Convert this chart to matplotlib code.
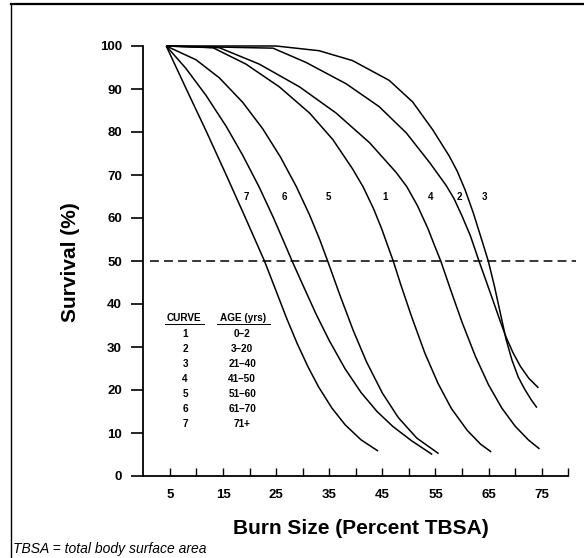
import matplotlib
matplotlib.use("Agg")
import matplotlib.pyplot as plt
from matplotlib.lines import Line2D

plt.rcParams['font.family'] = ['Liberation Sans', 'DejaVu Sans']

# ---- data (x = % TBSA, y = survival %) ----
c7_x = [4.3, 8.0, 11.9, 15.6, 19.3, 22.8, 25.0, 27.0, 29.0, 31.0, 33.0, 35.5, 38.0, 41.0, 44.2]
c7_y = [100, 90.2, 80.0, 70.0, 59.8, 50.0, 43.0, 36.6, 30.7, 25.4, 20.7, 15.8, 11.9, 8.4, 5.8]

c6_x = [4.3, 8.0, 11.8, 15.6, 18.7, 21.8, 24.4, 26.2, 28.0, 30.0, 32.5, 35.0, 38.0, 41.0, 44.0, 47.0, 50.5, 54.4]
c6_y = [100, 94.8, 88.5, 81.3, 74.6, 67.2, 60.3, 55.2, 50.0, 44.5, 37.7, 31.5, 24.9, 19.4, 15.0, 11.5, 8.2, 5.0]

c5_x = [4.3, 9.9, 14.3, 18.7, 22.5, 25.8, 28.8, 31.3, 33.2, 34.7, 37.0, 39.5, 42.0, 45.0, 48.0, 51.5, 55.6]
c5_y = [100, 96.8, 92.6, 86.9, 80.7, 74.2, 67.3, 60.7, 55.0, 50.0, 42.1, 33.9, 26.6, 19.3, 13.6, 8.8, 5.2]

c1_x = [4.3, 13.1, 19.3, 25.6, 31.3, 35.7, 39.4, 41.4, 43.4, 44.9, 46.0, 47.05, 48.5, 50.5, 53.0, 55.5, 58.0, 61.0, 63.5, 65.5]
c1_y = [100, 99.6, 95.8, 90.5, 84.4, 78.2, 71.4, 67.2, 62.0, 57.4, 53.6, 50.0, 44.4, 37.1, 28.6, 21.5, 15.7, 10.6, 7.4, 5.6]

c4_x = [4.3, 14.3, 21.8, 29.4, 36.3, 42.6, 47.6, 49.6, 51.6, 53.6, 54.8, 56.0, 58.0, 60.0, 62.5, 65.0, 67.5, 70.0, 72.5, 74.6]
c4_y = [100, 99.6, 95.8, 90.5, 84.4, 77.5, 70.6, 67.3, 62.9, 57.5, 53.7, 50.0, 42.8, 35.8, 27.9, 21.2, 15.8, 11.6, 8.4, 6.3]

c2_x = [4.3, 24.4, 30.6, 38.2, 44.4, 49.5, 53.9, 57.0, 58.5, 60.0, 61.6, 63.2, 64.5, 65.9, 67.2, 68.3, 69.6, 71.0, 72.6, 74.4]
c2_y = [100, 99.5, 96.2, 91.2, 85.9, 79.8, 72.9, 67.6, 64.5, 60.5, 55.8, 50.0, 45.5, 40.6, 36.0, 32.3, 28.7, 25.5, 22.7, 20.5]

c3_x = [4.3, 25.0, 33.1, 39.4, 46.3, 50.7, 54.5, 57.6, 59.1, 60.6, 62.1, 63.6, 64.95, 66.1, 67.2, 68.3, 69.4, 70.6, 71.8, 73.0, 74.1]
c3_y = [100, 100, 98.9, 96.6, 92.0, 87.0, 80.5, 74.4, 70.9, 66.5, 61.3, 55.4, 50.0, 44.2, 38.0, 31.8, 27.0, 23.0, 20.2, 17.8, 15.9]

curve_ids = ["7", "6", "5", "1", "4", "2", "3"]
label_x = [19.35, 26.5, 34.8, 45.6, 54.0, 59.6, 64.3]
label_y = 64.8

table_curves = ["1", "2", "3", "4", "5", "6", "7"]
table_ages = ["0\u20132", "3\u201320", "21\u201340", "41\u201350", "51\u201360", "61\u201370", "71+"]

x_ticks = [5, 10, 15, 20, 25, 30, 35, 40, 45, 50, 55, 60, 65, 70, 75, 80]
x_ticklabels = ["5", "", "15", "", "25", "", "35", "", "45", "", "55", "", "65", "", "75", ""]
y_ticks = [0, 10, 20, 30, 40, 50, 60, 70, 80, 90, 100]

# ---- figure ----
W, H = 584, 558
fig = plt.figure(figsize=(W / 100, H / 100), dpi=100)
ax = fig.add_axes([143.4 / W, (H - 476) / H, 435.4 / W, 430 / H])

for xs, ys in [(c7_x, c7_y), (c6_x, c6_y), (c5_x, c5_y), (c1_x, c1_y),
               (c4_x, c4_y), (c2_x, c2_y), (c3_x, c3_y)]:
    ax.plot(xs, ys, color='black', lw=1.1, clip_on=False,
            solid_joinstyle='round', solid_capstyle='butt')

ax.axhline(50, xmin=1.25 / 82, xmax=81.5 / 82, color='black', lw=1.1,
           linestyle=(0, (5.8, 3.4)))

for t, lx in zip(curve_ids, label_x):
    ax.text(lx, label_y, t, fontsize=7, fontweight='bold', ha='center', va='center')

# table
ax.text(7.7, 36.7, "CURVE", fontsize=7.2, fontweight='bold', ha='center', va='center')
ax.text(18.8, 36.7, "AGE (yrs)", fontsize=7.2, fontweight='bold', ha='center', va='center')
ax.plot([4.0, 11.4], [35.3, 35.3], color='black', lw=0.7)
ax.plot([13.8, 23.9], [35.3, 35.3], color='black', lw=0.7)
row_y0, row_dy = 33.0, 3.48
for i, (c, a) in enumerate(zip(table_curves, table_ages)):
    yy = row_y0 - i * row_dy
    ax.text(7.85, yy, c, fontsize=7.2, fontweight='bold', ha='center', va='center')
    ax.text(18.6, yy, a, fontsize=7.2, fontweight='bold', ha='center', va='center')

ax.set_xlim(0, 82)
ax.set_ylim(0, 100)
for s in ['top', 'right']:
    ax.spines[s].set_visible(False)
ax.spines['bottom'].set_bounds(0, 80)
ax.spines['left'].set_linewidth(1.3)
ax.spines['bottom'].set_linewidth(1.3)

ax.set_xticks(x_ticks)
ax.set_xticklabels(x_ticklabels)
ax.set_yticks(y_ticks)
ax.tick_params(axis='x', direction='in', length=5.5, width=1.0, pad=9,
               labelsize=9.5)
ax.tick_params(axis='y', direction='out', length=8.5, width=1.2, pad=7,
               labelsize=9.5)
for lab in ax.get_xticklabels() + ax.get_yticklabels():
    lab.set_fontweight('bold')

fig.text(361 / W, 1 - 528 / H, "Burn Size (Percent TBSA)", fontsize=15,
         fontweight='bold', ha='center', va='center')
fig.text(70 / W, 1 - 262 / H, "Survival (%)", fontsize=15, fontweight='bold',
         ha='center', va='center', rotation=90)

fig.text(13 / W, 1 - 549 / H, "TBSA = total body surface area", fontsize=10,
         style='italic', ha='left', va='center')

# outer frame (top and left)
fig.add_artist(Line2D([11 / W, 1], [1 - 4 / H, 1 - 4 / H], transform=fig.transFigure,
                      color='black', lw=1.6))
fig.add_artist(Line2D([11 / W, 11 / W], [1 - 4 / H, 0], transform=fig.transFigure,
                      color='black', lw=1.0))

fig.savefig("out.png", dpi=100)
